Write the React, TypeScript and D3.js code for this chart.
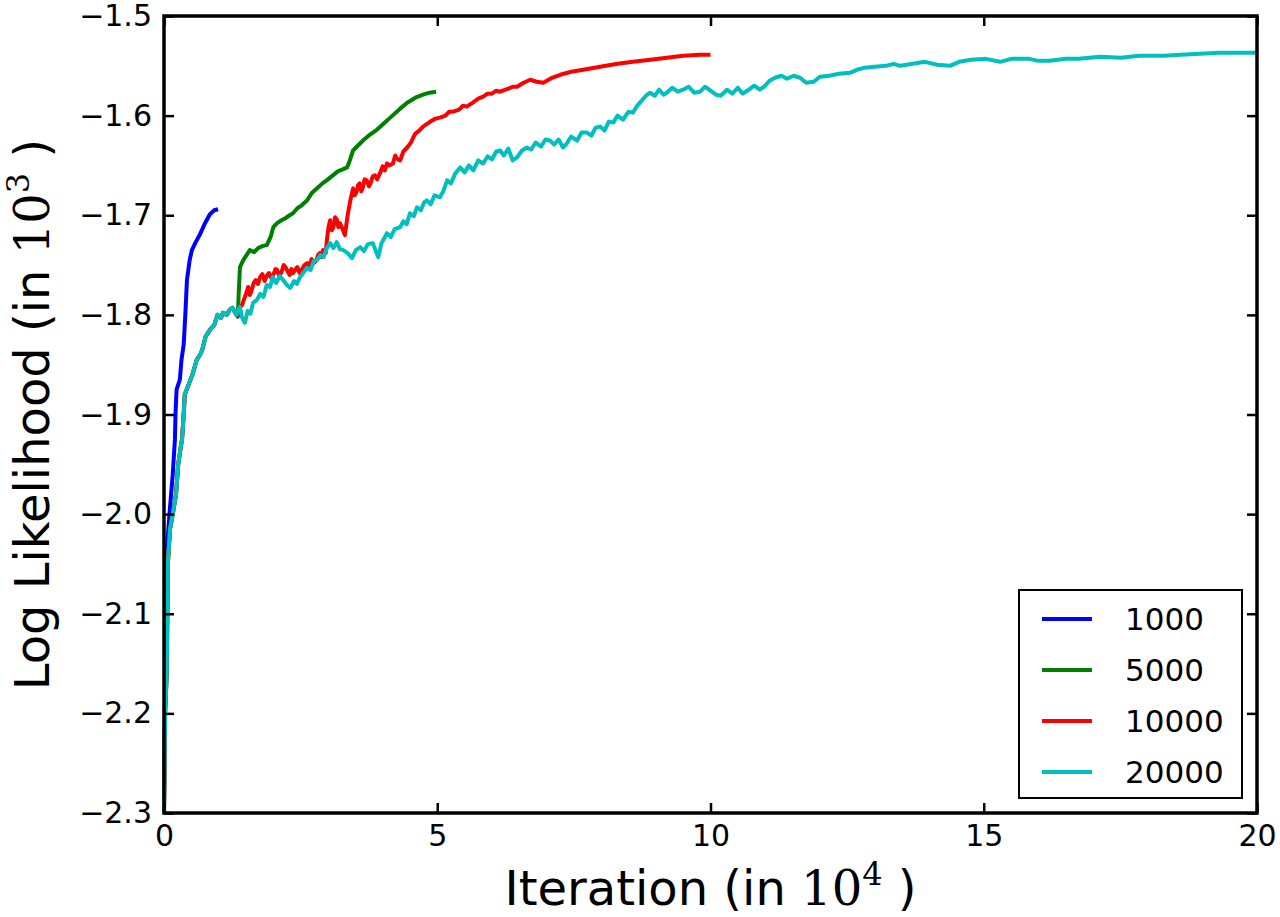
import React, { useEffect, useRef } from "react"
import * as d3 from "d3"

// x in units of 10^4 iterations, y in units of 10^3
const sharedStart: [number, number][] = [
  [0, -2.3], [0.02, -2.2], [0.05, -2.16], [0.07, -2.05], [0.11, -2.015], [0.16, -2.0],
  [0.22, -1.98], [0.26, -1.95], [0.3, -1.935], [0.33, -1.925], [0.36, -1.9], [0.38, -1.88],
  [0.45, -1.87], [0.52, -1.86], [0.6, -1.845], [0.66, -1.84], [0.7, -1.835], [0.76, -1.822],
  [0.84, -1.815], [0.92, -1.81], [0.98, -1.8], [1.04, -1.803], [1.08, -1.798], [1.15, -1.8],
  [1.2, -1.795], [1.25, -1.793], [1.33, -1.8],
]

const run1000: [number, number][] = [
  [0, -2.3], [0.03, -2.1], [0.06, -2.03], [0.1, -2.0], [0.16, -1.96], [0.2, -1.925],
  [0.21, -1.9], [0.23, -1.875], [0.29, -1.865], [0.32, -1.845], [0.36, -1.83], [0.39, -1.8],
  [0.42, -1.765], [0.47, -1.745], [0.51, -1.735], [0.58, -1.727], [0.66, -1.719],
  [0.75, -1.708], [0.84, -1.699], [0.92, -1.695], [0.99, -1.694],
]

const run5000: [number, number][] = sharedStart.concat([
  [1.35, -1.802], [1.37, -1.775], [1.39, -1.752], [1.45, -1.745], [1.51, -1.74], [1.57, -1.735],
  [1.65, -1.737], [1.72, -1.733], [1.8, -1.731], [1.88, -1.73], [1.95, -1.722], [2.0, -1.712],
  [2.07, -1.708], [2.15, -1.705], [2.22, -1.703], [2.3, -1.7], [2.36, -1.698], [2.44, -1.693],
  [2.52, -1.69], [2.62, -1.685], [2.7, -1.678], [2.8, -1.673], [2.9, -1.668], [3.0, -1.664],
  [3.09, -1.66], [3.18, -1.656], [3.27, -1.654], [3.35, -1.652], [3.4, -1.645], [3.46, -1.635],
  [3.55, -1.63], [3.64, -1.625], [3.77, -1.619], [3.9, -1.614], [4.02, -1.608], [4.14, -1.602],
  [4.3, -1.594], [4.45, -1.587], [4.6, -1.582], [4.74, -1.579], [4.86, -1.577], [4.98, -1.576],
] as [number, number][])

const run10000: [number, number][] = sharedStart.concat([
  [1.36, -1.8], [1.39, -1.792], [1.43, -1.79], [1.46, -1.785], [1.5, -1.779], [1.54, -1.772],
  [1.57, -1.78], [1.6, -1.776], [1.64, -1.768], [1.68, -1.765], [1.72, -1.769], [1.76, -1.762],
  [1.8, -1.759], [1.84, -1.766], [1.88, -1.761], [1.92, -1.758], [1.96, -1.763], [2.0, -1.76],
  [2.04, -1.754], [2.07, -1.755], [2.11, -1.761], [2.15, -1.757], [2.19, -1.75], [2.22, -1.752],
  [2.26, -1.756], [2.3, -1.76], [2.33, -1.754], [2.36, -1.758], [2.4, -1.755], [2.44, -1.752],
  [2.48, -1.758], [2.52, -1.755], [2.57, -1.75], [2.62, -1.748], [2.66, -1.752], [2.7, -1.744],
  [2.74, -1.748], [2.78, -1.746], [2.82, -1.74], [2.85, -1.738], [2.88, -1.742], [2.91, -1.735],
  [2.96, -1.738], [2.98, -1.725], [3.01, -1.712], [3.04, -1.705], [3.07, -1.715], [3.1, -1.712],
  [3.13, -1.702], [3.16, -1.704], [3.19, -1.712], [3.22, -1.708], [3.27, -1.714], [3.31, -1.72],
  [3.36, -1.7], [3.41, -1.685], [3.46, -1.673], [3.49, -1.68], [3.52, -1.677], [3.55, -1.67],
  [3.58, -1.668], [3.61, -1.676], [3.64, -1.672], [3.67, -1.664], [3.71, -1.665], [3.75, -1.671],
  [3.78, -1.668], [3.82, -1.661], [3.86, -1.66], [3.9, -1.664], [3.95, -1.658], [4.0, -1.651],
  [4.04, -1.655], [4.08, -1.648], [4.12, -1.65], [4.19, -1.648], [4.23, -1.64], [4.26, -1.643],
  [4.32, -1.645], [4.38, -1.636], [4.45, -1.632], [4.52, -1.627], [4.56, -1.622], [4.6, -1.618],
  [4.67, -1.615], [4.74, -1.611], [4.82, -1.608], [4.9, -1.605], [4.97, -1.603], [5.05, -1.602],
  [5.15, -1.6], [5.22, -1.596], [5.29, -1.596], [5.4, -1.594], [5.47, -1.59], [5.54, -1.591],
  [5.65, -1.587], [5.75, -1.583], [5.84, -1.581], [5.92, -1.578], [6.0, -1.578], [6.08, -1.575],
  [6.15, -1.576], [6.3, -1.573], [6.38, -1.571], [6.46, -1.571], [6.58, -1.567], [6.7, -1.564],
  [6.82, -1.566], [6.94, -1.567], [7.1, -1.562], [7.25, -1.559], [7.45, -1.556], [7.67, -1.554],
  [7.98, -1.551], [8.3, -1.548], [8.58, -1.546], [8.9, -1.544], [9.2, -1.542], [9.5, -1.54],
  [9.81, -1.539], [10.0, -1.539],
] as [number, number][])

const run20000: [number, number][] = sharedStart.concat([
  [1.36, -1.795], [1.39, -1.792], [1.43, -1.803], [1.48, -1.808], [1.53, -1.796], [1.58, -1.799],
  [1.63, -1.788], [1.7, -1.785], [1.76, -1.779], [1.82, -1.782], [1.88, -1.77], [1.94, -1.772],
  [1.99, -1.762], [2.05, -1.768], [2.12, -1.761], [2.18, -1.765], [2.25, -1.77], [2.31, -1.773],
  [2.38, -1.766], [2.43, -1.769], [2.49, -1.762], [2.56, -1.757], [2.62, -1.753], [2.68, -1.755],
  [2.74, -1.746], [2.8, -1.745], [2.86, -1.74], [2.92, -1.742], [2.98, -1.733], [3.04, -1.728],
  [3.1, -1.733], [3.16, -1.727], [3.22, -1.734], [3.28, -1.735], [3.36, -1.738], [3.44, -1.743],
  [3.51, -1.735], [3.59, -1.732], [3.66, -1.736], [3.73, -1.729], [3.82, -1.728], [3.87, -1.735],
  [3.92, -1.742], [3.98, -1.728], [4.03, -1.723], [4.08, -1.718], [4.15, -1.722], [4.22, -1.714],
  [4.32, -1.712], [4.38, -1.706], [4.44, -1.709], [4.5, -1.698], [4.57, -1.701], [4.63, -1.692],
  [4.7, -1.695], [4.76, -1.687], [4.81, -1.685], [4.88, -1.689], [4.95, -1.68], [5.05, -1.682],
  [5.11, -1.676], [5.18, -1.665], [5.25, -1.668], [5.33, -1.658], [5.42, -1.652], [5.5, -1.657],
  [5.58, -1.65], [5.66, -1.655], [5.75, -1.645], [5.84, -1.648], [5.92, -1.641], [6.0, -1.644],
  [6.08, -1.636], [6.15, -1.635], [6.22, -1.64], [6.3, -1.633], [6.38, -1.645], [6.46, -1.642],
  [6.55, -1.635], [6.64, -1.632], [6.72, -1.634], [6.8, -1.627], [6.9, -1.631], [6.98, -1.624],
  [7.06, -1.625], [7.14, -1.629], [7.22, -1.624], [7.3, -1.632], [7.37, -1.628], [7.45, -1.621],
  [7.56, -1.625], [7.64, -1.617], [7.74, -1.617], [7.82, -1.62], [7.9, -1.612], [7.98, -1.611],
  [8.06, -1.615], [8.14, -1.606], [8.22, -1.607], [8.3, -1.6], [8.4, -1.604], [8.5, -1.596],
  [8.58, -1.597], [8.66, -1.59], [8.74, -1.585], [8.82, -1.58], [8.89, -1.577], [8.98, -1.58],
  [9.06, -1.574], [9.14, -1.579], [9.2, -1.577], [9.3, -1.572], [9.4, -1.576], [9.5, -1.574],
  [9.6, -1.571], [9.7, -1.577], [9.81, -1.576], [9.9, -1.571], [10.0, -1.575], [10.1, -1.579],
  [10.19, -1.58], [10.3, -1.574], [10.4, -1.578], [10.5, -1.572], [10.59, -1.578], [10.7, -1.574],
  [10.8, -1.57], [10.9, -1.574], [10.98, -1.571], [11.08, -1.565], [11.18, -1.562], [11.3, -1.56],
  [11.4, -1.563], [11.52, -1.56], [11.64, -1.562], [11.75, -1.567], [11.89, -1.566], [12.0, -1.561],
  [12.17, -1.56], [12.35, -1.558], [12.55, -1.557], [12.68, -1.554], [12.81, -1.552], [13.0, -1.551],
  [13.21, -1.55], [13.35, -1.548], [13.47, -1.55], [13.7, -1.548], [13.92, -1.546], [14.15, -1.549],
  [14.38, -1.55], [14.55, -1.546], [14.77, -1.544], [15.04, -1.543], [15.3, -1.546], [15.5, -1.543],
  [15.83, -1.543], [16.0, -1.545], [16.21, -1.545], [16.5, -1.543], [16.74, -1.543], [17.13, -1.541],
  [17.51, -1.542], [17.84, -1.54], [18.3, -1.54], [18.6, -1.539], [18.96, -1.538], [19.3, -1.537],
  [19.62, -1.537], [20.0, -1.537],
] as [number, number][])

const seriesNames = ["1000", "5000", "10000", "20000"]
const seriesData = [run1000, run5000, run10000, run20000]
const seriesColors = ["#0000ff", "#008000", "#ff0000", "#00bfbf"]

const xTicks = [0, 5, 10, 15, 20]
const yTicks = [-2.3, -2.2, -2.1, -2.0, -1.9, -1.8, -1.7, -1.6, -1.5]

const W = 1280
const H = 917
const left = 164, right = 1257, top = 16, bottom = 813
const FONT = "DejaVu Sans, sans-serif"
const MATH = "DejaVu Serif, Liberation Serif, serif"

export default function App() {
  const axesRef = useRef<SVGGElement>(null)

  const x = d3.scaleLinear().domain([0, 20]).range([left, right])
  const y = d3.scaleLinear().domain([-2.3, -1.5]).range([bottom, top])
  const line = d3.line<[number, number]>().x(d => x(d[0])).y(d => y(d[1]))

  useEffect(() => {
    const g = d3.select(axesRef.current)
    g.selectAll("*").remove()
    const fmtY = d3.format(".1f")

    const xb = g.append("g").attr("transform", `translate(0,${bottom})`)
      .call(d3.axisBottom(x).tickValues(xTicks).tickSize(-10).tickPadding(12).tickFormat(d3.format("d") as any))
    const yl = g.append("g").attr("transform", `translate(${left},0)`)
      .call(d3.axisLeft(y).tickValues(yTicks).tickSize(-10).tickPadding(12).tickFormat(fmtY as any))
    const xt = g.append("g").attr("transform", `translate(0,${top})`)
      .call(d3.axisTop(x).tickValues(xTicks).tickSize(-10).tickFormat(() => ""))
    const yr = g.append("g").attr("transform", `translate(${right},0)`)
      .call(d3.axisRight(y).tickValues(yTicks).tickSize(-10).tickFormat(() => ""))

    for (const a of [xb, yl, xt, yr]) {
      a.select(".domain").remove()
      a.selectAll("line").attr("stroke", "#000").attr("stroke-width", 2.5)
      a.selectAll("text").attr("fill", "#000").attr("font-size", 30).attr("font-family", FONT)
    }
  }, [])

  return (
    <svg width={W} height={H} style={{ position: "absolute", left: 0, top: 0, background: "#fff" }}>
      <rect x={0} y={0} width={W} height={H} fill="#fff" />
      {seriesData.map((d, i) => (
        <path key={seriesNames[i]} d={line(d) || ""} fill="none" stroke={seriesColors[i]}
          strokeWidth={4} strokeLinejoin="round" strokeLinecap="butt" />
      ))}
      <g ref={axesRef} />
      <rect x={left} y={top} width={right - left} height={bottom - top} fill="none" stroke="#000" strokeWidth={3.5} />

      {/* legend */}
      <rect x={1019} y={590} width={223} height={208} fill="#fff" stroke="#000" strokeWidth={2} />
      {seriesNames.map((name, i) => (
        <g key={name} transform={`translate(0,${619 + i * 51})`}>
          <line x1={1042} x2={1092} y1={0} y2={0} stroke={seriesColors[i]} strokeWidth={4} />
          <text x={1125} y={11} fontSize={31} fontFamily={FONT} fill="#000">{name}</text>
        </g>
      ))}

      {/* axis labels */}
      <text x={(left + right) / 2} y={905} textAnchor="middle" fontSize={48} fontFamily={FONT} fill="#000">
        Iteration (in <tspan fontFamily={MATH}>10</tspan>
        <tspan fontFamily={MATH} fontSize={32} dy={-20}>4</tspan>
        <tspan dy={20}> )</tspan>
      </text>
      <text transform={`translate(49,${(top + bottom) / 2}) rotate(-90)`} textAnchor="middle"
        fontSize={48} fontFamily={FONT} fill="#000">
        Log Likelihood (in <tspan fontFamily={MATH}>10</tspan>
        <tspan fontFamily={MATH} fontSize={32} dy={-20}>3</tspan>
        <tspan dy={20}> )</tspan>
      </text>
    </svg>
  )
}
